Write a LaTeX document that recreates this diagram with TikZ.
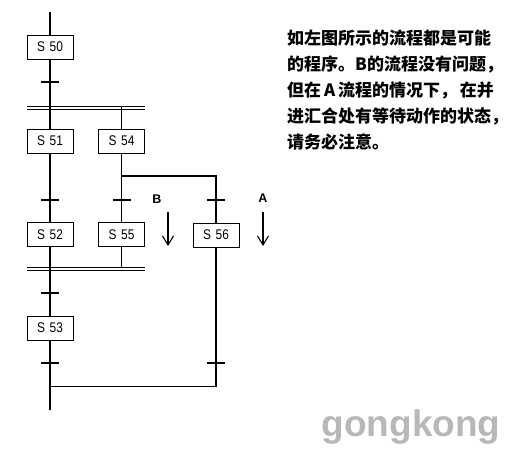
\documentclass[tikz,border=0pt]{standalone}
\usepackage{fontspec}
\setmainfont{Liberation Sans}
\newfontfamily\cjk{Noto Sans CJK SC}
\newfontfamily\narrowsf[FakeStretch=0.85]{Liberation Sans}
\usetikzlibrary{arrows.meta}
\tikzset{
  stepbox/.style={draw, line width=0.9pt, minimum width=46pt, minimum height=24pt, inner sep=0pt, font=\narrowsf\fontsize{14}{14}\selectfont},
  wire/.style={line width=1.1pt},
  tickline/.style={line width=1.1pt},
  barline/.style={line width=0.9pt},
  dirarrow/.style={line width=1.1pt, -{Straight Barb[length=9pt,width=11pt,line width=1.1pt]}},
  dirlabel/.style={font=\bfseries\fontsize{12.5}{12.5}\selectfont},
  note/.style={anchor=west, inner sep=0pt, font=\cjk\bfseries\fontsize{17}{17}\selectfont},
  wmark/.style={font=\bfseries\fontsize{37}{37}\selectfont, text=black!28}
}
\begin{document}
\begin{tikzpicture}[x=1pt,y=-1pt]
\useasboundingbox (0,0) rectangle (523,454);
% steps
\node[stepbox] (s50) at (50,47) {S\,\,50};
\node[stepbox] (s51) at (50,141) {S\,\,51};
\node[stepbox] (s54) at (121.5,141) {S\,\,54};
\node[stepbox] (s52) at (50,234.5) {S\,\,52};
\node[stepbox] (s55) at (121.5,234.5) {S\,\,55};
\node[stepbox] (s56) at (216,235) {S\,\,56};
\node[stepbox] (s53) at (50,328) {S\,\,53};
% coordinates
\coordinate (top) at (50,12);
\coordinate (bar1) at (121.5,107.5);
\coordinate (bar2) at (121.5,268.5);
\coordinate (br) at (121.5,176);
\coordinate (join) at (50,386.5);
\coordinate (bottom) at (50,410);
% connectors
\draw[wire] (top) -- (s50);
\draw[wire] (s50) -- (s51);
\draw[wire] (bar1) -- (s54);
\draw[wire] (s51) -- (s52);
\draw[wire] (s54) -- (s55);
\draw[wire] (br) -| (s56);
\draw[wire] (s52) -- (s53);
\draw[wire] (s55) -- (bar2);
\draw[wire] (s53) -- (bottom);
\draw[wire] (s56) |- (join);
% double bars
\draw[barline] (27,106) -- (145,106);
\draw[barline] (27,109) -- (145,109);
\draw[barline] (27,267) -- (145,267);
\draw[barline] (27,270) -- (145,270);
% transitions
\foreach \x/\y in {50/82, 50/200, 121.5/200, 216/200, 50/293, 50/363, 216/363}
  \draw[tickline] (\x-9,\y) -- (\x+9,\y);
% direction arrows
\node[dirlabel] (lb) at (157,199) {B};
\node[dirlabel] (la) at (263,198) {A};
\coordinate (b1) at (168,212);
\coordinate (b2) at (168,246);
\coordinate (a1) at (263,212);
\coordinate (a2) at (263,246);
\draw[dirarrow] (b1) -- (b2);
\draw[dirarrow] (a1) -- (a2);
% note
\node[note] (n1) at (287,38) {如左图所示的流程都是可能};
\node[note] (n2) at (287,64.5) {的程序。B的流程没有问题，};
\node[note] (n3) at (287,90.5) {但在\,A\,流程的情况下，\,在并};
\node[note] (n4) at (287,116) {进汇合处有等待动作的状态，};
\node[note] (n5) at (287,142) {请务必注意。};
% watermark
\node[wmark] (wm) at (411,427) {gongkong};
\end{tikzpicture}
\end{document}
